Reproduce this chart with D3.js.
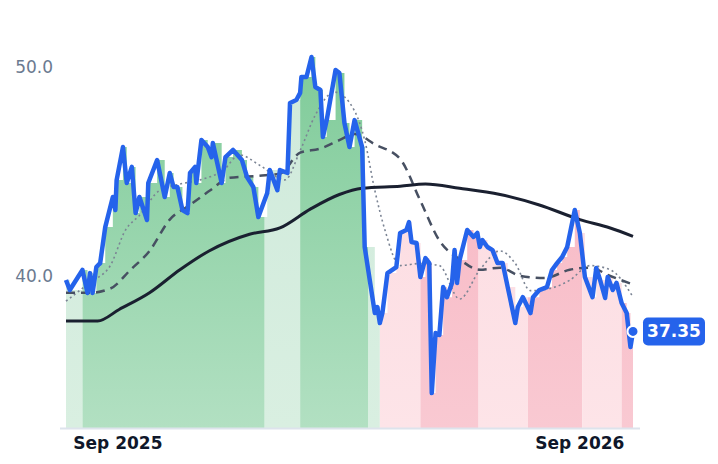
<!DOCTYPE html>
<html><head><meta charset="utf-8">
<script src="https://cdn.jsdelivr.net/npm/d3@7"></script>
<style>body{margin:0;background:#fff}</style>
</head><body>
<svg id="svg1" width="718" height="464"></svg>
<script>
// days since start date, closing price
const startDate = new Date(2025, 6, 22);
const priceDays = [0,3,13,17,19,21,24,27,31,37,39,40,45,48,52,55,58,64,65,72,78,82,85,88,92,96,98,102,103,107,112,115,116,123,126,132,139,143,148,152,159,161,167,169,175,177,182,185,186,190,194,197,201,203,206,213,216,220,224,228,234,236,244,246,248,250,254,261,264,269,271,273,277,280,284,287,289,292,295,298,301,305,307,309,311,317,322,325,327,329,333,337,341,345,349,355,357,361,367,369,374,380,384,388,392,396,402,406,410,416,419,422,426,428,432,435,439,443,446,448];
const priceVals = [39.81,39.33,40.29,39.19,40.14,39.19,40.43,40.62,42.34,43.78,43.16,44.59,46.17,44.45,45.22,43.01,43.78,42.68,44.45,45.55,43.78,44.93,44.26,44.26,43.16,43.01,44.93,45.22,44.45,46.51,46.17,45.69,46.36,44.45,45.69,46.03,45.55,44.74,44.26,42.82,43.97,45.07,44.11,45.07,44.93,48.28,48.42,48.76,49.52,49.52,50.48,49.04,48.90,46.65,47.46,49.86,49.71,47.32,46.17,47.46,46.17,41.39,38.23,38.52,37.75,38.23,40.14,40.43,42.06,42.20,42.58,41.63,41.58,39.95,40.86,40.62,34.40,37.27,37.18,39.47,38.99,39.67,41.24,39.67,40.77,42.20,41.87,42.06,41.39,41.72,41.39,41.24,40.62,40.62,39.47,37.75,38.52,38.99,38.23,38.99,39.33,39.47,40.29,40.62,40.91,41.39,43.16,42.06,39.95,38.99,40.38,39.81,38.95,39.95,39.33,39.67,38.71,38.23,36.60,37.35];
const maLong = [[0,37.85],[25,37.85],[42,38.4],[66,39.2],[90,40.3],[113,41.2],[145,42.0],[169,42.3],[193,43.2],[216,43.9],[234,44.2],[264,44.3],[284,44.4],[311,44.2],[343,43.9],[374,43.4],[406,42.7],[430,42.3],[448,41.9]];
const maMid = [[0,39.2],[19,39.2],[35,39.4],[51,40.3],[66,41.2],[82,42.7],[98,43.4],[114,44.1],[129,44.7],[153,44.8],[169,44.9],[185,45.9],[201,46.1],[216,46.5],[228,46.8],[244,46.3],[264,45.6],[280,43.6],[295,41.7],[311,40.8],[327,40.3],[343,40.4],[359,40.0],[378,39.9],[398,40.3],[414,40.4],[430,40.0],[448,39.6]];
const maShort = [[0,38.8],[19,39.7],[35,40.5],[47,42.2],[58,42.9],[74,44.1],[90,44.4],[106,44.6],[125,45.1],[137,45.8],[153,45.3],[173,44.6],[185,46.0],[197,47.7],[212,48.8],[228,47.9],[236,46.5],[244,44.1],[252,42.2],[264,40.5],[280,40.6],[295,40.5],[311,38.9],[327,40.3],[343,41.2],[355,40.6],[367,39.3],[382,39.4],[398,39.8],[414,40.5],[430,40.3],[448,39.0]];
// shaded bands: [fromDay, toDay, kind]
const bands = [[0,13,'gl'],[13,157,'gd'],[157,185,'gl'],[185,239,'gd'],[239,248,'gl'],[248,280,'pl'],[280,326,'pd'],[326,365,'pl'],[365,408,'pd'],[408,439,'pl'],[439,448,'pd']];
const yTicks = [40, 50];
const xTicks = [new Date(2025, 8, 1), new Date(2026, 8, 1)];
const lastLabel = "37.35";

const svg = d3.select("svg#svg1");
const day = d => d3.timeDay.offset(startDate, d);
const x = d3.scaleTime().domain([day(0), day(448)]).range([66, 633]);
const y = d3.scaleLinear().domain([32.73, 50]).range([428, 67]);

const price = priceDays.map((d, i) => ({date: day(d), v: priceVals[i]}));
const toPts = arr => arr.map(d => ({date: day(d[0]), v: d[1]}));

const defs = svg.append("defs");
const colors = {gd: ["#7fcb99", "#b2e0c2"], gl: ["#cfeadb", "#d9efe1"], pd: ["#f7b3c0", "#f9c9d2"], pl: ["#fcd9df", "#fde4e8"]};
Object.entries(colors).forEach(([k, c]) => {
    const g = defs.append("linearGradient").attr("id", "g" + k).attr("x1", 0).attr("x2", 0).attr("y1", 0).attr("y2", 1);
    g.append("stop").attr("offset", "0%").attr("stop-color", c[0]);
    g.append("stop").attr("offset", "100%").attr("stop-color", c[1]);
});
bands.forEach((b, i) => {
    defs.append("clipPath").attr("id", "c" + i).append("rect")
        .attr("x", x(day(b[0]))).attr("width", x(day(b[1])) - x(day(b[0])))
        .attr("y", 0).attr("height", 428);
});

const area = d3.area().curve(d3.curveStepAfter)
    .x(d => x(d.date)).y0(428).y1(d => y(d.v));
bands.forEach((b, i) => {
    svg.append("path").attr("d", area(price))
        .attr("clip-path", `url(#c${i})`)
        .attr("fill", `url(#g${b[2]})`);
});

// baseline
svg.append("line").attr("x1", 60).attr("x2", 640).attr("y1", 428.5).attr("y2", 428.5)
    .attr("stroke", "#dde3ec").attr("stroke-width", 2);

const line = d3.line().curve(d3.curveMonotoneX).x(d => x(d.date)).y(d => y(d.v));
svg.append("path").attr("d", line(toPts(maShort))).attr("fill", "none")
    .attr("stroke", "#7b8494").attr("stroke-width", 1.6).attr("stroke-dasharray", "2,3");
svg.append("path").attr("d", line(toPts(maMid))).attr("fill", "none")
    .attr("stroke", "#475062").attr("stroke-width", 2.5).attr("stroke-dasharray", "9,6");
svg.append("path").attr("d", line(toPts(maLong))).attr("fill", "none")
    .attr("stroke", "#1a2030").attr("stroke-width", 3);

svg.append("path").attr("d", d3.line().x(d => x(d.date)).y(d => y(d.v))(price))
    .attr("fill", "none").attr("stroke", "#2563eb").attr("stroke-width", 4.5)
    .attr("stroke-linejoin", "round");

const last = price[price.length - 1];
svg.append("circle").attr("cx", x(last.date)).attr("cy", y(last.v)).attr("r", 5.5)
    .attr("fill", "#2563eb").attr("stroke", "#fff").attr("stroke-width", 2);
svg.append("rect").attr("x", 643).attr("y", y(last.v) - 14).attr("width", 62).attr("height", 28)
    .attr("rx", 5).attr("fill", "#2563eb");
svg.append("text").attr("x", 674).attr("y", y(last.v) + 6).attr("text-anchor", "middle")
    .attr("fill", "#fff").attr("font-family", "DejaVu Sans").attr("font-weight", "bold")
    .attr("font-size", 17).text(lastLabel);

svg.selectAll(".yt").data(yTicks).join("text")
    .attr("x", 53).attr("y", d => y(d) + 6).attr("text-anchor", "end")
    .attr("fill", "#6b7a90").attr("font-family", "DejaVu Sans").attr("font-size", 17)
    .text(d => d.toFixed(1));
svg.selectAll(".xt").data(xTicks).join("text")
    .attr("x", d => x(d)).attr("y", 449).attr("text-anchor", "middle")
    .attr("fill", "#0f172a").attr("font-family", "DejaVu Sans").attr("font-weight", "bold")
    .attr("font-size", 17).text(d3.timeFormat("%b %Y"));
</script>
</body></html>
